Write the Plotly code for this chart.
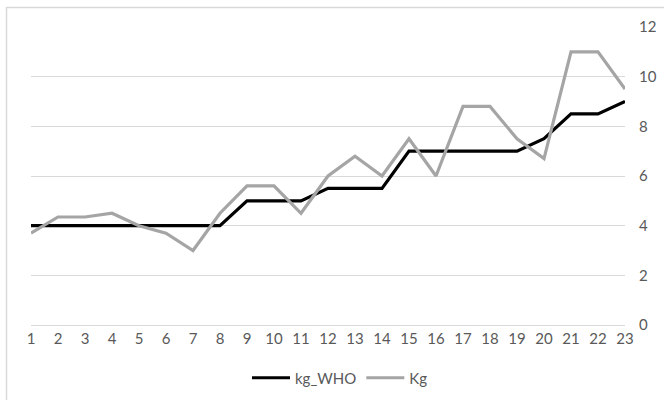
import plotly.graph_objects as go

months = list(range(1, 24))
kg_who = [4, 4, 4, 4, 4, 4, 4, 4, 5, 5, 5, 5.5, 5.5, 5.5, 7, 7, 7, 7, 7, 7.5, 8.5, 8.5, 9]
kg = [3.7, 4.35, 4.35, 4.5, 4.0, 3.7, 3.0, 4.5, 5.6, 5.6, 4.5, 6.0, 6.8, 6.0, 7.5, 6.0,
      8.8, 8.8, 7.5, 6.7, 11.0, 11.0, 9.5]
y_ticks = [0, 2, 4, 6, 8, 10, 12]

W, H = 664, 400
# plot area edges in pixels
PX0, PX1, PY_TOP, PY_BOT = 31, 625, 27, 325
# chart frame corner (left and top edges) in page pixels
FRAME_X, FRAME_Y = 6.5, 7.5

fig = go.Figure()
# chart frame, drawn on a hidden full-page helper subplot measured in pixels
fig.add_trace(go.Scatter(x=[FRAME_X, FRAME_X, W], y=[H, FRAME_Y, FRAME_Y],
                         xaxis="x2", yaxis="y2", mode="lines",
                         line=dict(color="#d9d9d9", width=1.5),
                         showlegend=False, hoverinfo="skip"))
fig.add_trace(go.Scatter(x=months, y=kg_who, mode="lines", name="kg_WHO",
                         line=dict(color="#000000", width=3.2)))
fig.add_trace(go.Scatter(x=months, y=kg, mode="lines", name="Kg",
                         line=dict(color="#a5a5a5", width=3.2)))

font = dict(family="Lato, Open Sans, sans-serif", size=15, color="#595959")
fig.update_layout(
    width=W, height=H,
    margin=dict(l=0, r=0, t=0, b=0, pad=0, autoexpand=False),
    paper_bgcolor="white", plot_bgcolor="rgba(0,0,0,0)",
    font=font,
    showlegend=True,
    legend=dict(orientation="h", x=340 / W, xanchor="center",
                y=1 - 378 / H, yanchor="middle",
                font=font, itemwidth=38, traceorder="normal",
                bgcolor="rgba(0,0,0,0)"),
    xaxis=dict(domain=[PX0 / W, PX1 / W], range=[1, 23], tickmode="array",
               tickvals=months, ticktext=[str(m) for m in months],
               showgrid=False, zeroline=False, showline=False, ticks="",
               tickfont=font, ticklabelstandoff=3, automargin=False),
    yaxis=dict(domain=[1 - PY_BOT / H, 1 - PY_TOP / H], range=[0, 12], side="right",
               tickvals=y_ticks, showgrid=True, gridcolor="#d9d9d9", gridwidth=1,
               zeroline=True, zerolinecolor="#d9d9d9", zerolinewidth=1,
               showline=False, ticks="", tickfont=font,
               ticklabelstandoff=13, automargin=False),
    xaxis2=dict(domain=[0, 1], range=[0, W], anchor="y2", visible=False,
                fixedrange=True),
    yaxis2=dict(domain=[0, 1], range=[H, 0], anchor="x2", visible=False,
                fixedrange=True),
)

fig.write_html("out.html")
